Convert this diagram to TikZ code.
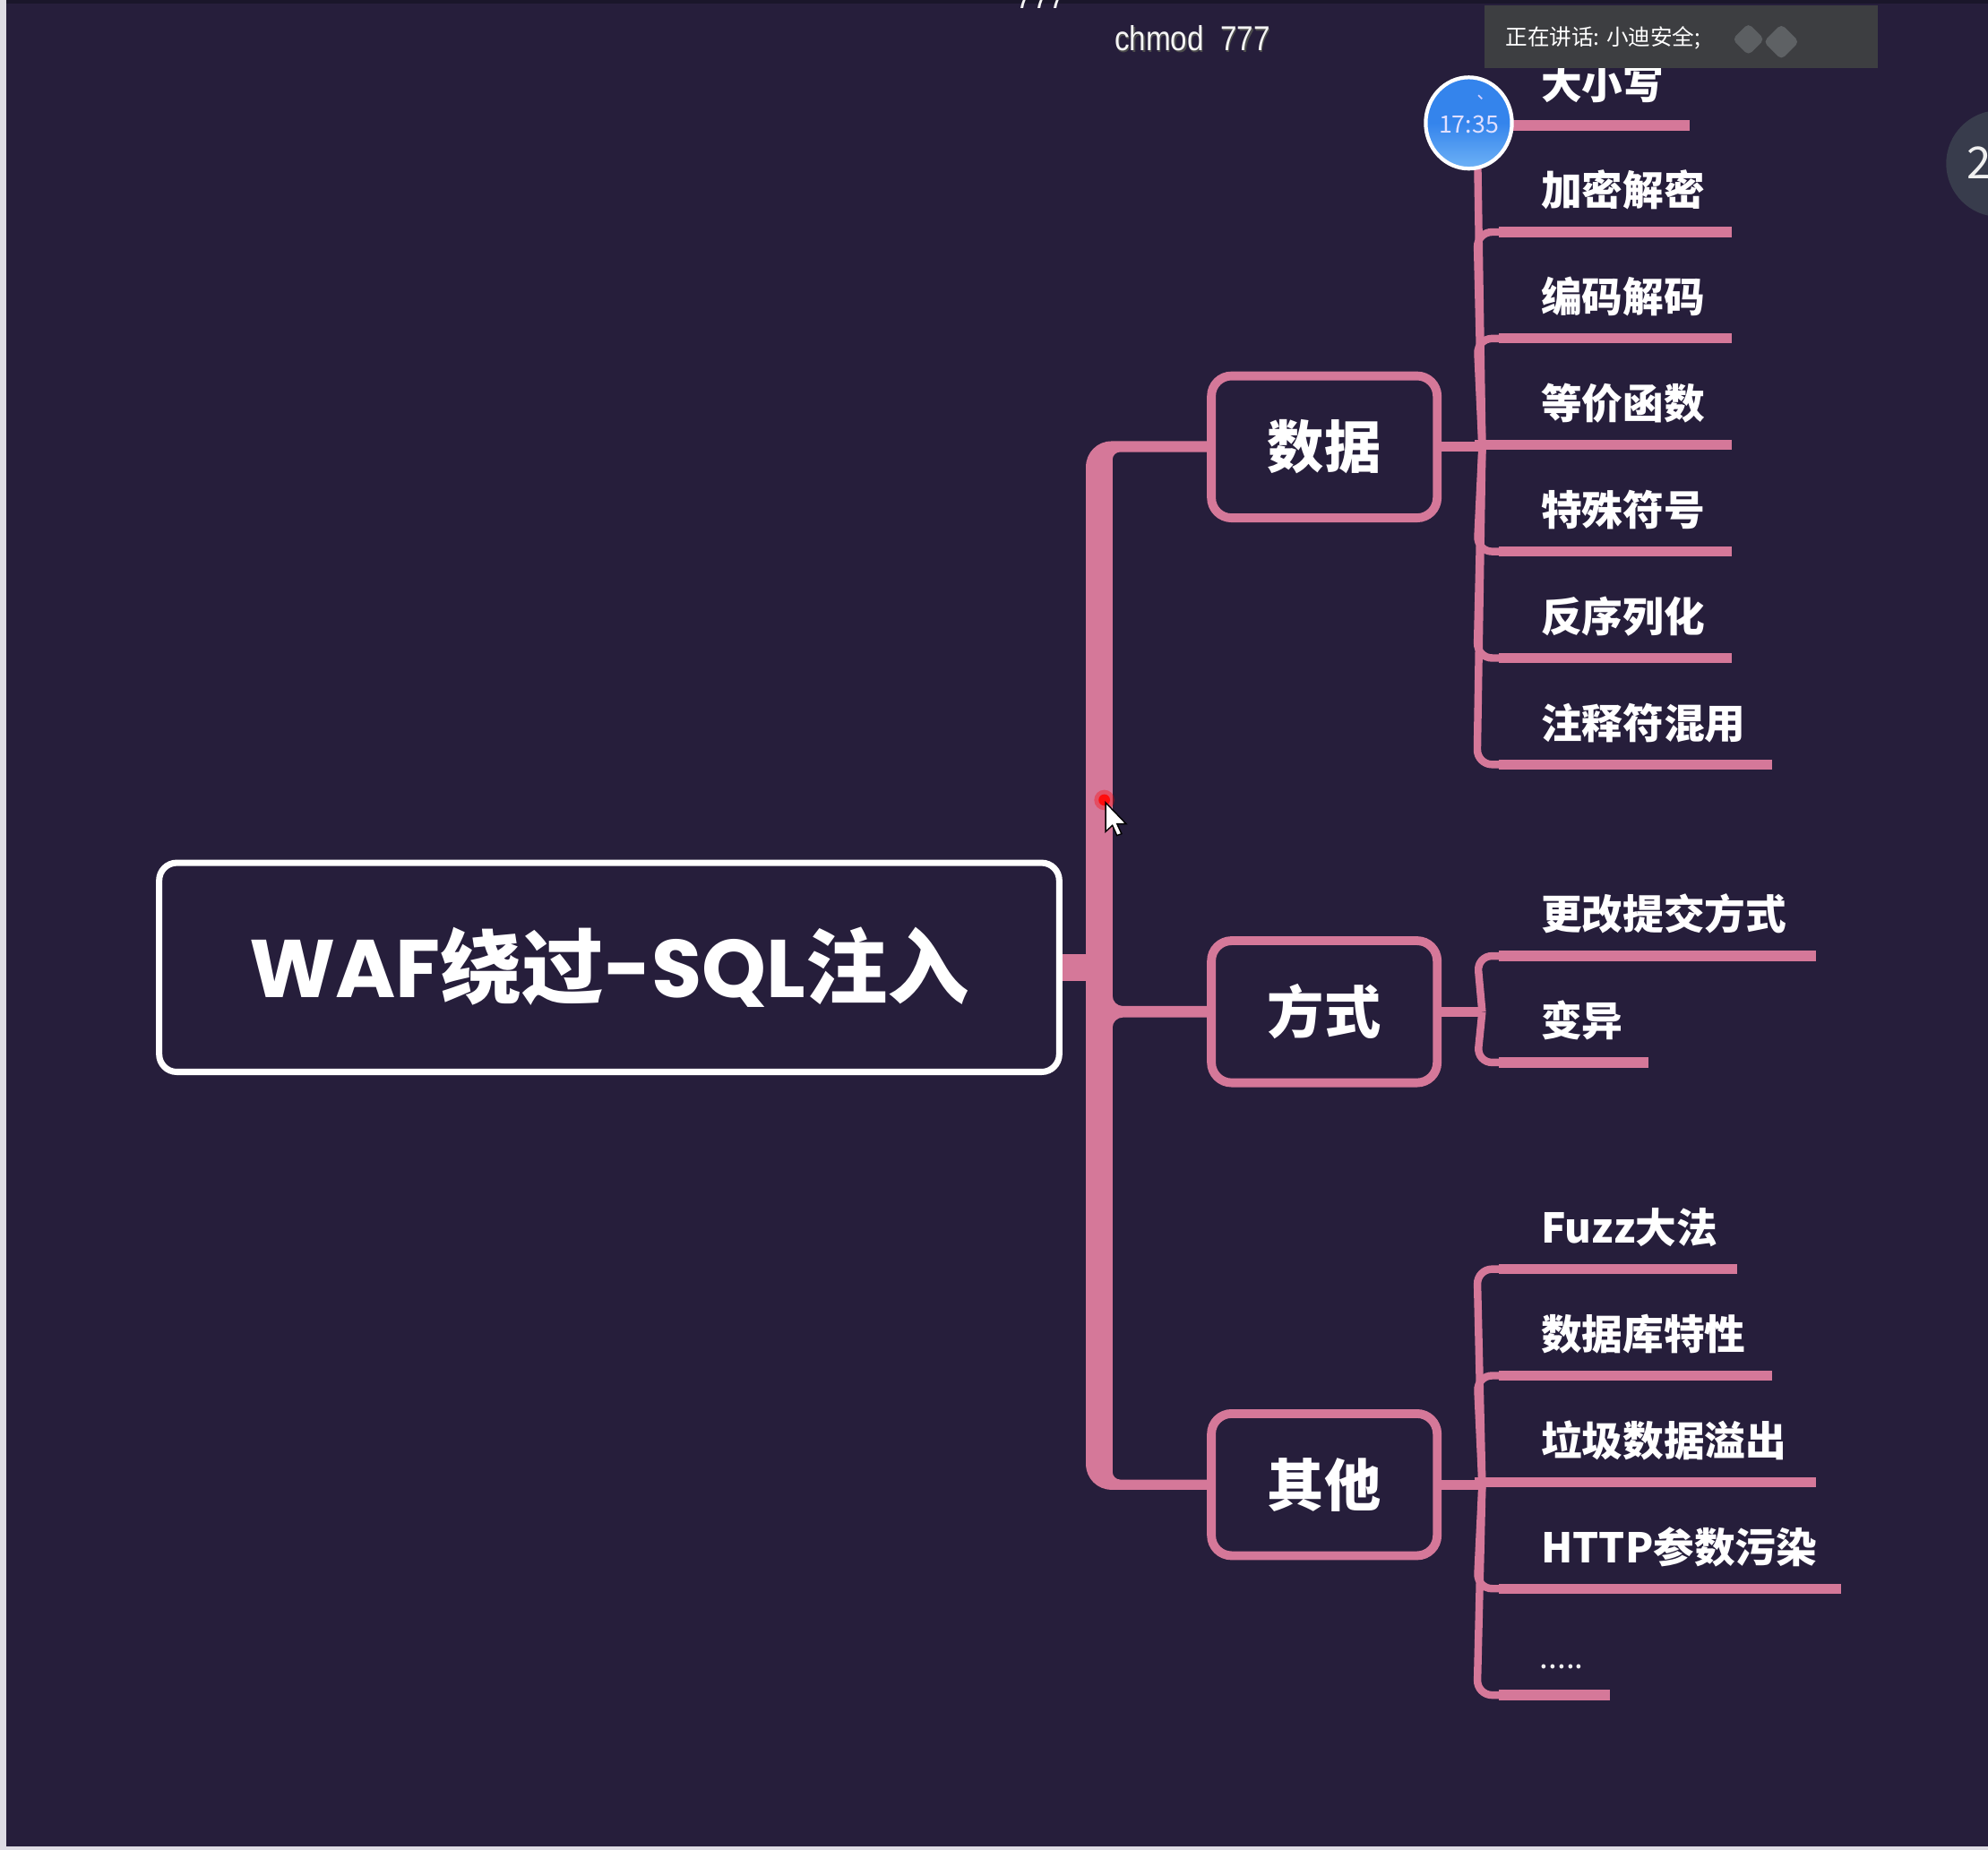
\documentclass[tikz,border=0pt]{standalone}
\usepackage{fontspec}
\setmainfont{Noto Sans CJK SC}
\newfontfamily\cjk{Noto Sans CJK SC}
\newfontfamily\pop{Poppins}
\newfontfamily\chm{Liberation Sans}[FakeStretch=0.86]
\usetikzlibrary{calc}
\definecolor{bgc}{RGB}{38,30,59}
\definecolor{pinkc}{RGB}{213,120,153}
\definecolor{greybox}{RGB}{61,62,65}
\definecolor{ringc}{RGB}{56,60,76}
\definecolor{bluec}{RGB}{52,132,236}
\definecolor{bluel}{RGB}{110,178,246}
\definecolor{logoc}{RGB}{98,101,104}
\definecolor{stripc}{RGB}{222,220,228}
\definecolor{topband}{RGB}{26,22,42}
\pgfdeclarelayer{bglayer}
\pgfdeclarelayer{connectors}
\pgfsetlayers{bglayer,connectors,main}
\tikzset{
  rootbox/.style={draw=white, line width=2pt, rounded corners=5.6pt, minimum width=285.8pt, minimum height=66.4pt, inner sep=0pt, fill=bgc, text=white},
  catbox/.style={draw=pinkc, line width=2.8pt, rounded corners=6.4pt, minimum width=71.7pt, minimum height=45.1pt, inner sep=0pt, fill=bgc, text=white, font=\cjk\bfseries\fontsize{18}{20}\selectfont},
  leaf/.style={anchor=west, inner sep=0pt, text=white, font=\cjk\bfseries\fontsize{13}{15}\selectfont},
  uline/.style={draw=pinkc, line width=3.2pt},
  vline/.style={draw=pinkc, line width=2.4pt, rounded corners=4.8pt},
}
\begin{document}
\begin{tikzpicture}[x=0.1415mm, y=-0.1415mm]
\begin{pgfonlayer}{bglayer}
  \fill[bgc] (0,0) rectangle (1568,1459);
  \fill[topband] (0,0) rectangle (1568,3);
  \fill[stripc] (0,0) rectangle (5,1459);
  \fill[stripc] (0,1456) rectangle (1568,1459);
\end{pgfonlayer}
\useasboundingbox (0,0) rectangle (1568,1459);

% main nodes
\node[rootbox] (root) at (480.5,763)
  {\fontsize{26}{29}\selectfont{\pop\bfseries WAF}{\cjk\bfseries 绕过}{\pop\bfseries -SQL}{\cjk\bfseries 注入}};
\node[catbox] (data)  at (1044.5,352.5) {数据};
\node[catbox] (mode)  at (1044.5,798) {方式};
\node[catbox] (other) at (1044.5,1171) {其他};

% leaves
\foreach \nm/\t/\yy in {d1/大小写/99, d2/加密解密/183, d3/编码解码/267, d4/等价函数/351, d5/特殊符号/435, d6/反序列化/519, d7/注释符混用/603,
  m1/更改提交方式/754, m2/变异/838,
  o1/Fuzz大法/1001, o2/数据库特性/1085, o3/垃圾数据溢出/1169, o4/HTTP参数污染/1253}
  { \node[leaf] (\nm) at (1215,\yy-33) {\t}; }
\node[anchor=base west, inner sep=0pt, text=white!90!gray, font=\cjk\fontsize{10}{12}\selectfont] (o5) at (1214,1316) {.....};

\begin{pgfonlayer}{connectors}
  % trunk
  \fill[pinkc] ($(data.west)+(0,-4.5)$) -- (876.5,348) .. controls (865.5,348) and (856.5,357) .. (856.5,368)
    -- (856.5,1155) .. controls (856.5,1166) and (865.5,1175) .. (876.5,1175)
    -- ($(other.west)+(0,4)$) -- ($(other.west)+(0,-4)$) -- (883.5,1167) .. controls (880.2,1167) and (877.5,1164.3) .. (877.5,1161)
    -- (877.5,810.5) .. controls (877.5,806.1) and (881.1,802.5) .. (885.5,802.5)
    -- ($(mode.west)+(0,4.5)$) -- ($(mode.west)+(0,-4.5)$) -- (885.5,793.5) .. controls (881.1,793.5) and (877.5,789.9) .. (877.5,785.5)
    -- (877.5,362.5) .. controls (877.5,359.2) and (880.2,356.5) .. (883.5,356.5)
    -- ($(data.west)+(0,4)$) -- cycle;
  \draw[pinkc, line width=8.45pt] (root.east) -- ++(25,0);
  % sub trunks
  \draw[uline] (data.east) -- ++(32,0) coordinate (dj);
  \draw[uline] (mode.east) -- ++(32,0) coordinate (mj);
  \draw[uline] (other.east) -- ++(32,0) coordinate (oj);
  \foreach \yy/\xe in {99/1333, 183/1366, 267/1366, 435/1366, 519/1366, 603/1398}
    { \draw[vline] (dj) -- (1165,\yy) -- (1194,\yy); \draw[uline] (1182,\yy) -- (\xe,\yy); }
  \draw[uline] (1163,351) -- (1366,351);
  \foreach \yy/\xe in {754/1432, 838/1300}
    { \draw[vline] (mj) -- (1165,\yy) -- (1194,\yy); \draw[uline] (1182,\yy) -- (\xe,\yy); }
  \foreach \yy/\xe in {1001/1370, 1085/1398, 1253/1452, 1337/1270}
    { \draw[vline] (oj) -- (1165,\yy) -- (1194,\yy); \draw[uline] (1182,\yy) -- (\xe,\yy); }
  \draw[uline] (1163,1169) -- (1432,1169);
\end{pgfonlayer}

% clock bubble
\draw[white, line width=1.2pt, top color=bluec, bottom color=bluel, middle color=bluec] (1158.5,97) ellipse [x radius=34, y radius=36];
\node[text=white!88!blue, font=\cjk\fontsize{7.6}{9}\selectfont, inner sep=0pt] (clock) at (1158.5,98) {17:35};
\draw[white!80!blue, line width=0.5pt] (1166,75) -- (1169,78);

% speaker bar
\fill[greybox] (1171,4) rectangle (1481,53.5);
\node[anchor=west, text=white, font=\cjk\fontsize{7}{8}\selectfont, inner sep=0pt] (speak) at (1187,30) {正在讲话: 小迪安全;};
\node[fill=logoc, rounded corners=1.5pt, minimum size=7.2pt, inner sep=0pt, rotate=45, opacity=0.85] (logoa) at (1379,31) {};
\node[fill=logoc, rounded corners=1.5pt, minimum size=8pt, inner sep=0pt, rotate=45, opacity=0.9] (logob) at (1405,33) {};

% right badge
\fill[ringc] (1577,129) circle [radius=42];
\node[anchor=west, text=white!88!gray, font=\cjk\fontsize{14}{16}\selectfont, inner sep=0pt] (badge) at (1551,128) {2};

% top texts
\node[anchor=base, text=white!92!gray, font=\chm\itshape\fontsize{11}{12}\selectfont, inner sep=0pt] (seven) at (822,7) {777};
\node[text=black!70, font=\chm\fontsize{11}{12}\selectfont, inner sep=0pt] at (941.5,31.5) {chmod\ \ 777};
\node[text=white!92!gray, font=\chm\fontsize{11}{12}\selectfont, inner sep=0pt] (chmod) at (940.5,30) {chmod\ \ 777};

% cursor
\fill[red, opacity=0.35] (871,631) circle [radius=8];
\fill[red!95!white] (871,631) circle [radius=4.5];
\filldraw[fill=white, draw=black, line width=0.4pt, shift={(872,633)}] (0,0) -- (0,23) -- (5.4,18) -- (9,26) -- (12.6,24.6) -- (9,16.8) -- (16.2,16.8) -- cycle;
\end{tikzpicture}
\end{document}
